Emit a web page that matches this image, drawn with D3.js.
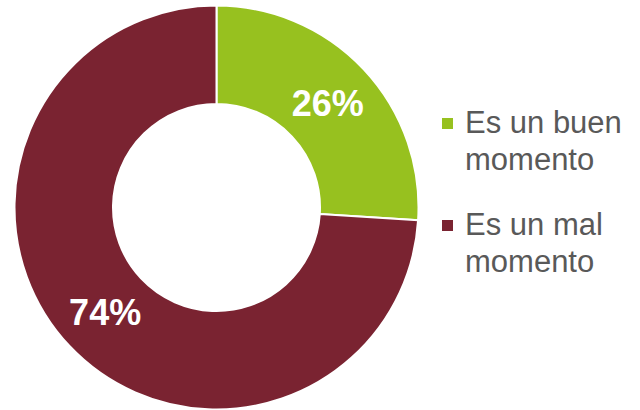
<!DOCTYPE html>
<html>
<head>
<meta charset="utf-8">
<script src="https://cdn.jsdelivr.net/npm/d3@7"></script>
<style>
html,body{margin:0;padding:0;background:#fff;}
svg{display:block;}
</style>
</head>
<body>
<svg id="chart" width="640" height="410"></svg>
<script>
const categories = ["Es un buen momento", "Es un mal momento"];
const legendLines = [["Es un buen", "momento"], ["Es un mal", "momento"]];
const values = [26, 74];
const labels = ["26%", "74%"];
const colors = ["#97c11f", "#7a2331"];

const svg = d3.select("#chart");
const cx = 216.5, cy = 207.5, rOuter = 202, rInner = 103.5;

const pie = d3.pie().sort(null).value(d => d)(values);
const arc = d3.arc().innerRadius(rInner).outerRadius(rOuter);

const g = svg.append("g").attr("transform", `translate(${cx},${cy})`);
g.selectAll("path").data(pie).enter().append("path")
  .attr("d", arc)
  .attr("fill", (d, i) => colors[i])
  .attr("stroke", "#fff")
  .attr("stroke-width", 2);

g.selectAll("text").data(pie).enter().append("text")
  .attr("transform", d => `translate(${arc.centroid(d)})`)
  .attr("text-anchor", "middle")
  .attr("dy", "0.36em")
  .attr("fill", "#fff")
  .attr("font-family", "Liberation Sans, Arial, sans-serif")
  .attr("font-weight", "bold")
  .attr("font-size", 36)
  .text((d, i) => labels[i]);

const legend = svg.append("g");
const lx = 442, ly0 = 133, entryGap = 102, lineGap = 37;
categories.forEach((c, i) => {
  const base = ly0 + i * entryGap;
  legend.append("rect")
    .attr("x", lx).attr("y", base - 15)
    .attr("width", 11).attr("height", 11)
    .attr("fill", colors[i]);
  const t = legend.append("text")
    .attr("font-family", "Liberation Sans, Arial, sans-serif")
    .attr("font-size", 31)
    .attr("fill", "#595959");
  legendLines[i].forEach((ln, j) => {
    t.append("tspan").attr("x", 465).attr("y", base + j * lineGap).text(ln);
  });
});
</script>
</body>
</html>
